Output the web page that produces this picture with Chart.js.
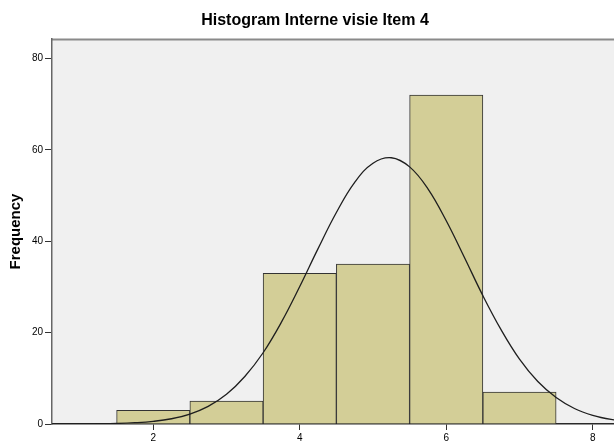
<!DOCTYPE html>
<html>
<head>
<meta charset="utf-8">
<script src="https://cdn.jsdelivr.net/npm/chart.js@4.4.1/dist/chart.umd.min.js"></script>
<style>
  html, body { margin: 0; padding: 0; background: #fff; }
  #wrap { width: 614px; height: 441px; }
</style>
</head>
<body>
<div id="wrap"><canvas id="grafico" width="614" height="441"></canvas></div>
<script>
const titulo = 'Histogram Interne visie Item 4';
const binCenters = [2, 3, 4, 5, 6, 7];
const binCounts = [3, 5, 33, 35, 72, 7];

// curva normal, puntos
const curveX = [0.5, 0.75, 1, 1.25, 1.5, 1.75, 2, 2.25, 2.5, 2.75, 3, 3.25, 3.5, 3.75,
  4, 4.25, 4.5, 4.75, 5, 5.25, 5.5, 5.75, 6, 6.25, 6.5, 6.75, 7, 7.25, 7.5, 7.75, 8, 8.25, 8.5];
const curveY = [0.003, 0.008, 0.02, 0.05, 0.12, 0.28, 0.58, 1.15, 2.17, 3.86, 6.5, 10.4, 15.6, 22.3,
  30.1, 38.4, 46.3, 52.9, 57.1, 58.3, 56.3, 51.5, 44.5, 36.4, 28.1, 20.6, 14.2, 9.3, 5.8, 3.4, 1.9, 1.0, 0.5];

const xTicks = [2, 4, 6, 8];
const yTicks = [0, 20, 40, 60, 80];

const FONT = 'Arial, "Liberation Sans", sans-serif';

// fondo gris del area del grafico + borde superior + titulo
const fondoPlugin = {
  id: 'fondo',
  beforeDraw(chart){
    const { ctx, chartArea: a } = chart;
    ctx.save();
    ctx.fillStyle = '#f0f0f0';
    ctx.fillRect(a.left, a.top, a.right - a.left, a.bottom - a.top);
    ctx.strokeStyle = '#8a8a8a';
    ctx.lineWidth = 2;
    ctx.beginPath();
    ctx.moveTo(a.left, a.top + 0.5);
    ctx.lineTo(a.right, a.top + 0.5);
    ctx.stroke();
    ctx.restore();
  },
  afterDraw(chart){
    const ctx = chart.ctx;
    ctx.save();
    ctx.fillStyle = '#000';
    ctx.font = 'bold 16px ' + FONT;
    ctx.textAlign = 'center';
    ctx.textBaseline = 'alphabetic';
    ctx.fillText(titulo, 315, 25);
    ctx.restore();
  }
};

const barData = binCenters.map((x, i) => ({ x: x, y: binCounts[i] }));
const curveData = curveX.map((x, i) => ({ x: x, y: curveY[i] }));

const ctx = document.getElementById('grafico').getContext('2d');
new Chart(ctx, {
  type: 'bar',
  data: {
    datasets: [
      {
        type: 'line',
        data: curveData,
        borderColor: '#1e1e1e',
        borderWidth: 1.3,
        pointRadius: 0,
        tension: 0.4,
        fill: false,
        order: 0
      },
      {
        type: 'bar',
        data: barData,
        backgroundColor: '#d3ce97',
        borderColor: '#333',
        borderWidth: 1,
        barPercentage: 1,
        categoryPercentage: 1,
        order: 1
      }
    ]
  },
  options: {
    responsive: false,
    animation: false,
    layout: { padding: { top: 39, left: 0, right: 0, bottom: 0 } },
    plugins: {
      legend: { display: false },
      title: { display: false },
      tooltip: { enabled: false }
    },
    scales: {
      x: {
        type: 'linear',
        min: 0.618,
        max: 8.29,
        offset: false,
        afterBuildTicks: s => { s.ticks = xTicks.map(v => ({ value: v })); },
        afterFit: s => { s.height = 17; },
        border: { color: '#2a2a2a', width: 1.5 },
        grid: { offset: false, drawOnChartArea: false, drawTicks: true, tickLength: 6, color: '#333' },
        ticks: { color: '#000', font: { family: FONT, size: 10 }, padding: 2, maxRotation: 0 }
      },
      y: {
        min: 0,
        max: 84.3,
        afterBuildTicks: s => { s.ticks = yTicks.map(v => ({ value: v })); },
        afterFit: s => { s.width = 52; },
        border: { color: '#666', width: 1.5 },
        grid: { drawOnChartArea: false, drawTicks: true, tickLength: 7, color: '#333' },
        ticks: { color: '#000', font: { family: FONT, size: 10 }, padding: 2 },
        title: {
          display: true,
          text: 'Frequency',
          color: '#000',
          font: { family: FONT, size: 15, weight: 'bold' },
          padding: { top: 7, bottom: 0 }
        }
      }
    }
  },
  plugins: [fondoPlugin]
});
</script>
</body>
</html>
